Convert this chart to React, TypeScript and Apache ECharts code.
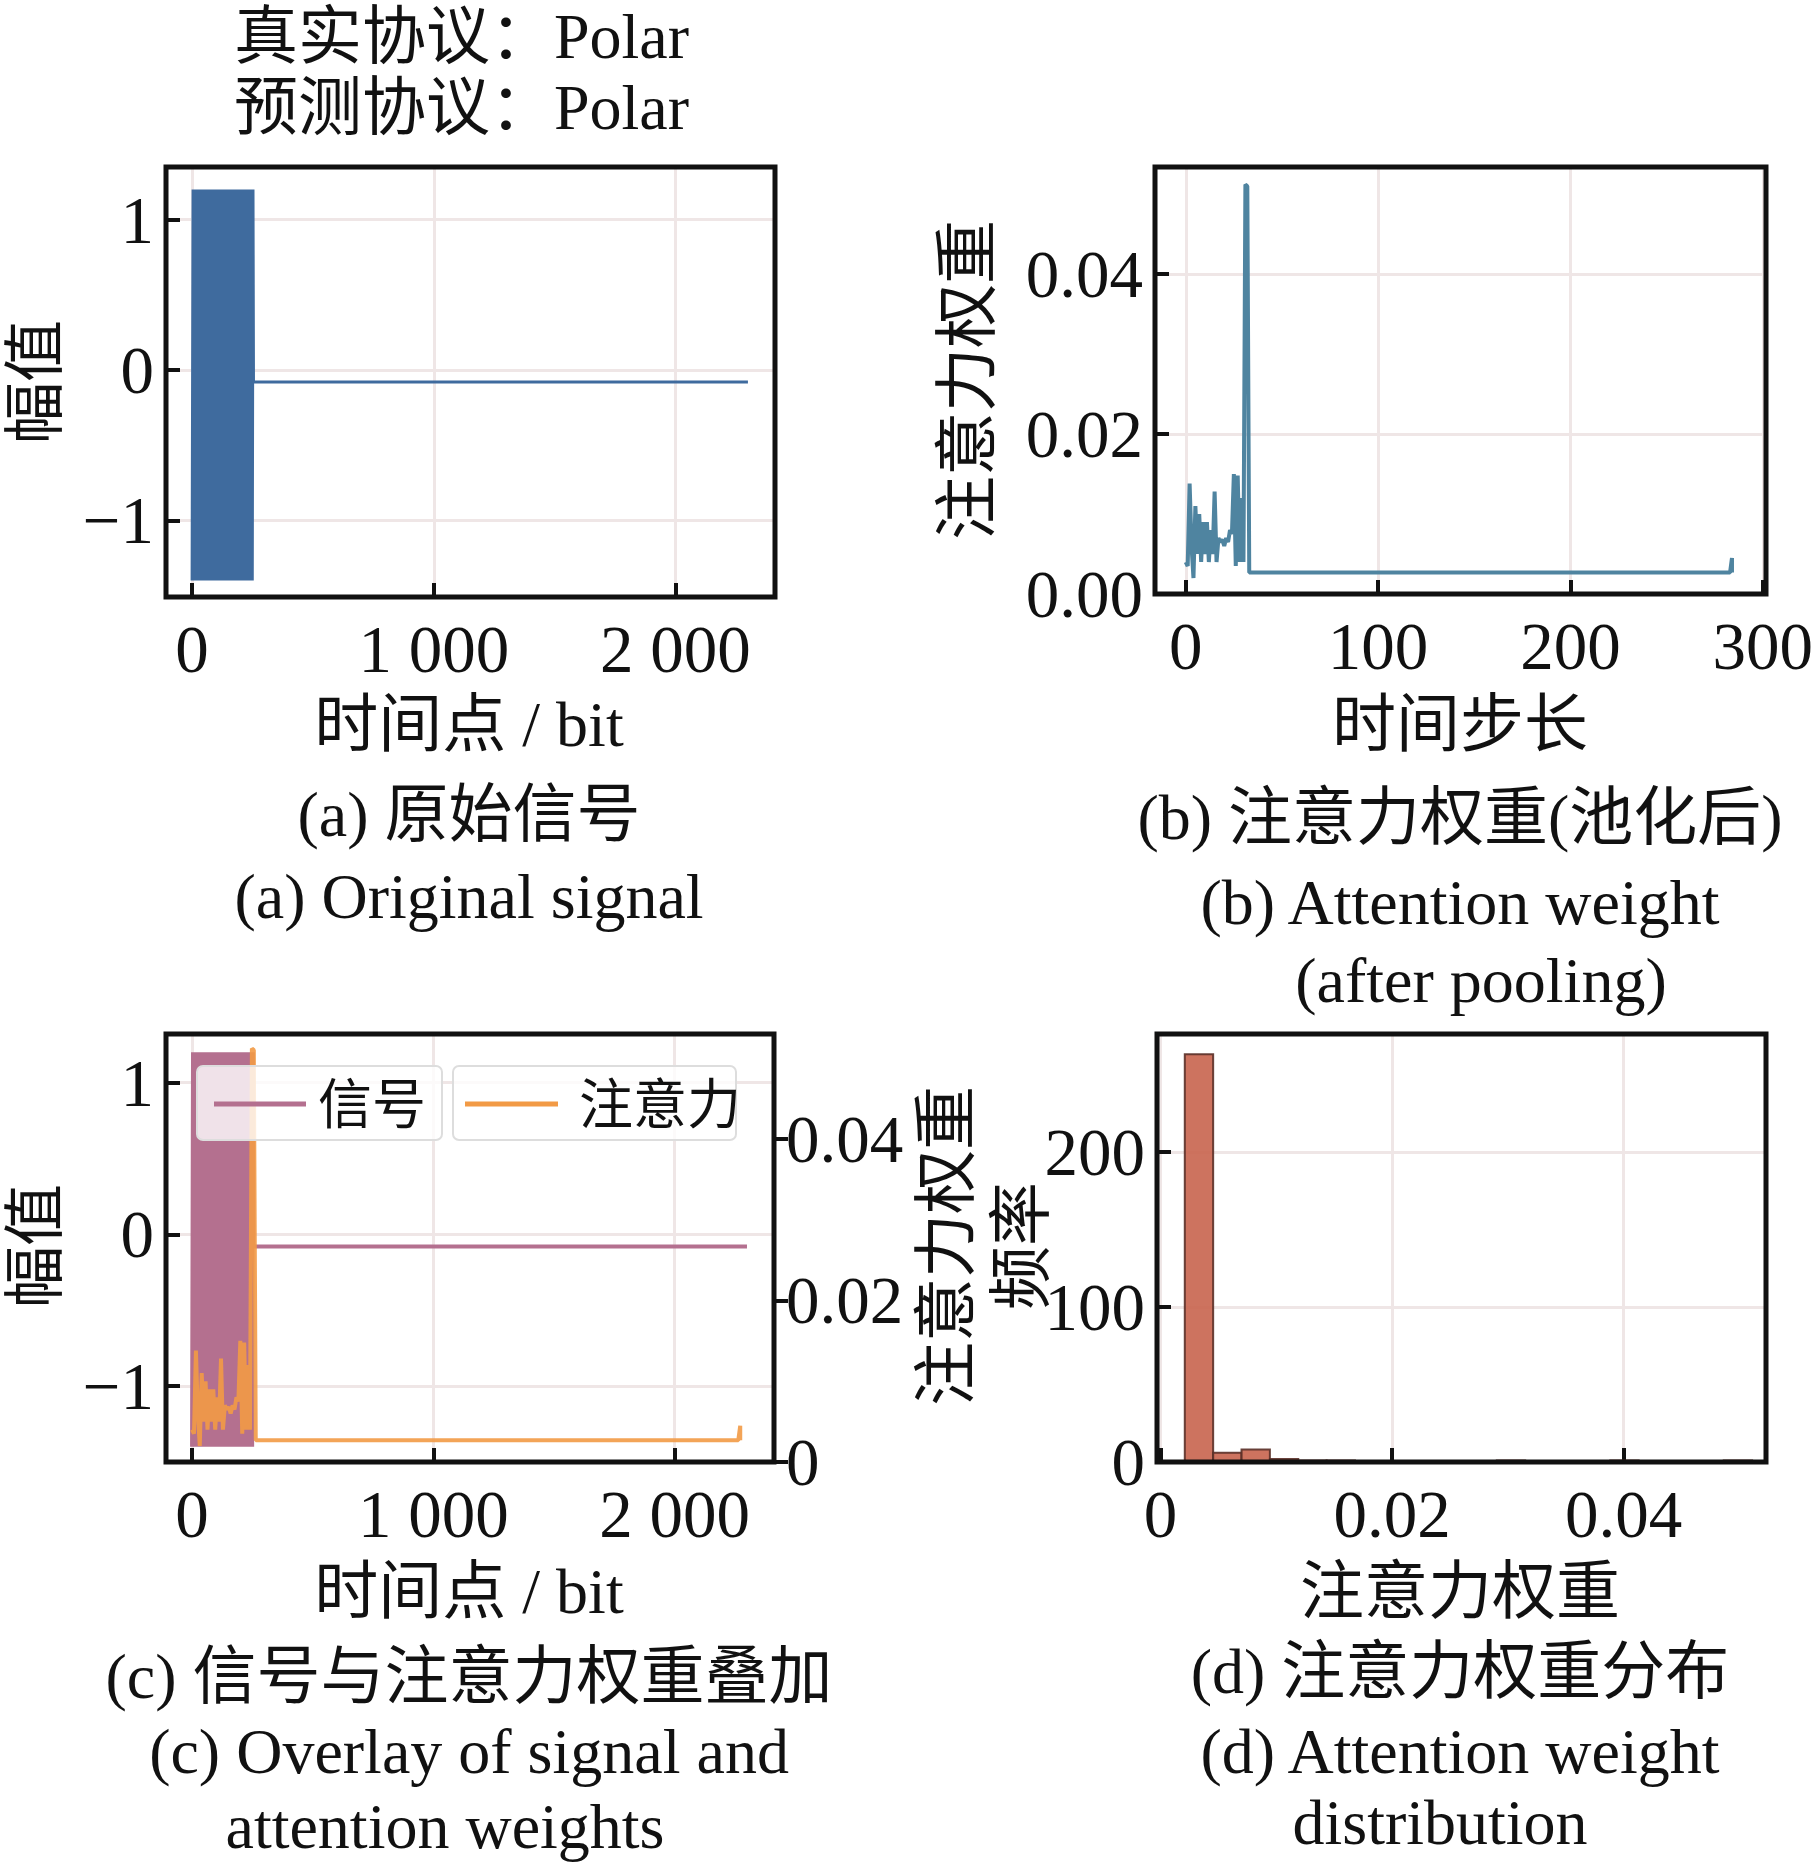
import React, { useEffect, useRef } from "react";
import * as echarts from "echarts";

// ---- data ----
const burstSignal: [number, number][] = [
  [0, -1.4], [4, 1.2], [9, -1.4], [14, 1.2], [19, -1.4], [24, 1.2], [29, -1.4], [34, 1.2], [39, -1.4], [44, 1.2],
  [49, -1.4], [54, 1.2], [59, -1.4], [64, 1.2], [69, -1.4], [74, 1.2], [79, -1.4], [84, 1.2], [89, -1.4], [94, 1.2],
  [99, -1.4], [104, 1.2], [109, -1.4], [114, 1.2], [119, -1.4], [124, 1.2], [129, -1.4], [134, 1.2], [139, -1.4], [144, 1.2],
  [149, -1.4], [154, 1.2], [159, -1.4], [164, 1.2], [169, -1.4], [174, 1.2], [179, -1.4], [184, 1.2], [189, -1.4], [194, 1.2],
  [199, -1.4], [204, 1.2], [209, -1.4], [214, 1.2], [219, -1.4], [224, 1.2], [229, -1.4], [234, 1.2], [239, -1.4], [244, 1.2],
  [249, -1.4], [252, 1.2], [254, -0.08], [2300, -0.08],
];
const attention: number[] = [
  0.004, 0.0035, 0.0138, 0.006, 0.002, 0.011, 0.005, 0.010, 0.004, 0.009,
  0.005, 0.009, 0.004, 0.008, 0.005, 0.0128, 0.004, 0.007, 0.0065, 0.0068,
  0.006, 0.007, 0.0065, 0.008, 0.0075, 0.015, 0.0035, 0.0148, 0.004, 0.012,
  0.004, 0.0512, 0.051, 0.0027,
];
const attentionTailEnd = 284;
const attentionTailValue = 0.0027;
const attentionLastValue = 0.0045;
const bitsPerStep = 8;
const histStart = 0.0021;
const histWidth = 0.00245;
const histCounts = [263, 6, 8, 2, 1, 1, 0, 0, 0, 0, 0, 1, 0, 0, 0, 1, 0, 0, 0, 1];
const signalTicksY = [-1, 0, 1];
const bitTicksX = [0, 1000, 2000];
const stepTicksX = [0, 100, 200, 300];
const weightTicksY = [0, 0.02, 0.04];
const weightTicksX = [0, 0.02, 0.04];
const freqTicksY = [0, 100, 200];

const attSeries: [number, number][] = [
  ...attention.map((v, i) => [i, v] as [number, number]),
  [attentionTailEnd - 1, attentionTailValue],
  [attentionTailEnd, attentionLastValue],
  [attentionTailEnd, attentionTailValue],
];

const FONT = "'Liberation Serif', 'Noto Sans CJK SC', serif";
const BLACK = "#111";
const GRIDC = "#efe6e6";
const TICK = 67;

function fmtNum(v: number) {
  if (v === 0) return "0";
  if (Math.abs(v) >= 1000) return String(v).replace(/(\d)(\d{3})$/, "$1 $2");
  if (v < 0) return "\u2212" + String(-v);
  return String(v);
}

function xAx(gi: number, min: number, max: number, ticks: number[], fmt = fmtNum) {
  return {
    type: "value", gridIndex: gi, min, max,
    axisLine: { show: true, onZero: false, lineStyle: { color: BLACK, width: 4 } },
    axisTick: { show: true, inside: true, length: 14, customValues: ticks, lineStyle: { color: BLACK, width: 4 } },
    axisLabel: { customValues: ticks, formatter: fmt, fontFamily: FONT, fontSize: TICK, color: BLACK, margin: 18 },
    splitLine: { show: false },
  };
}
function yAx(gi: number, min: number, max: number, ticks: number[], fmt = fmtNum, pos = "left") {
  return {
    type: "value", gridIndex: gi, min, max, position: pos,
    axisLine: { show: true, onZero: false, lineStyle: { color: BLACK, width: 4 } },
    axisTick: { show: true, inside: true, length: 14, customValues: ticks, lineStyle: { color: BLACK, width: 4 } },
    axisLabel: { customValues: ticks, formatter: fmt, fontFamily: FONT, fontSize: TICK, color: BLACK, margin: 12 },
    splitLine: { show: false },
  };
}
function gridSeries(xi: number, yi: number, xs: number[], ys: number[]) {
  return {
    type: "line", xAxisIndex: xi, yAxisIndex: yi, data: [], z: 0, silent: true,
    markLine: {
      silent: true, symbol: "none", label: { show: false }, z: 0,
      lineStyle: { color: GRIDC, width: 3, type: "solid" },
      data: [...xs.map((x) => ({ xAxis: x })), ...ys.map((y) => ({ yAxis: y }))],
    },
  };
}

function txt(x: number, y: number, text: string, size = 64, align = "center", rot = 0) {
  return {
    type: "text", x, y, rotation: rot,
    style: { text, fontFamily: FONT, fontSize: size, fill: BLACK, align, verticalAlign: "middle" },
  };
}

export default function App() {
  const ref = useRef<HTMLDivElement>(null);
  useEffect(() => {
    const chart = echarts.init(ref.current!, null, { renderer: "svg" });
    const S = 1.187;
    const P = (v: number) => Math.round(v * S);
    const frame = (l: number, t: number, r: number, b: number) => ({
      type: "rect", z: 100, shape: { x: P(l), y: P(t), width: P(r) - P(l), height: P(b) - P(t) },
      style: { fill: "none", stroke: BLACK, lineWidth: 5 }, silent: true,
    });
    chart.setOption({
      animation: false,
      backgroundColor: "#fff",
      grid: [
        { left: P(140), top: P(141), width: P(653) - P(140), height: P(503) - P(141) },
        { left: P(973), top: P(141), width: P(1488) - P(973), height: P(500) - P(141) },
        { left: P(140), top: P(871), width: P(652) - P(140), height: P(1232) - P(871) },
        { left: P(975), top: P(871), width: P(1488) - P(975), height: P(1232) - P(871) },
      ],
      xAxis: [
        xAx(0, -108, 2412, bitTicksX),
        xAx(1, -16, 301, stepTicksX),
        xAx(2, -108, 2412, bitTicksX),
        xAx(3, -0.0003, 0.0523, weightTicksX, (v: number) => (v === 0 ? "0" : String(v))),
      ],
      yAxis: [
        yAx(0, -1.51, 1.35, signalTicksY),
        yAx(1, 0, 0.0534, weightTicksY, (v: number) => v.toFixed(2)),
        yAx(2, -1.5, 1.32, signalTicksY),
        { ...yAx(2, 0, 0.053, weightTicksY, (v: number) => (v === 0 ? "0" : v.toFixed(2)), "right"),
          axisTick: { show: true, inside: false, length: 14, customValues: weightTicksY, lineStyle: { color: BLACK, width: 4 } } },
        yAx(3, 0, 276, freqTicksY),
      ],
      series: [
        gridSeries(0, 0, bitTicksX, signalTicksY),
        gridSeries(1, 1, stepTicksX, weightTicksY),
        gridSeries(2, 2, bitTicksX, signalTicksY),
        gridSeries(3, 4, weightTicksX, freqTicksY),
        { type: "line", z: 2, xAxisIndex: 0, yAxisIndex: 0, data: burstSignal, showSymbol: false,
          lineStyle: { color: "#3f6b9e", width: 3 } },
        { type: "line", z: 2, xAxisIndex: 1, yAxisIndex: 1, data: attSeries, showSymbol: false,
          lineStyle: { color: "#4f84a0", width: 4 } },
        { type: "line", z: 2, xAxisIndex: 2, yAxisIndex: 2, data: burstSignal, showSymbol: false,
          lineStyle: { color: "#b4708f", width: 4 } },
        { type: "line", z: 3, xAxisIndex: 2, yAxisIndex: 3, data: attSeries.map(([t, v]) => [t * bitsPerStep, v]), showSymbol: false,
          lineStyle: { color: "#f29a45", width: 4, opacity: 0.9 } },
        { type: "custom", z: 2, xAxisIndex: 3, yAxisIndex: 4,
          data: histCounts.map((c, i) => [histStart + i * histWidth, histStart + (i + 1) * histWidth, c]),
          encode: { x: [0, 1], y: 2 },
          renderItem: (params: any, api: any) => {
            const p0 = api.coord([api.value(0), 0]);
            const p1 = api.coord([api.value(1), api.value(2)]);
            return { type: "rect", shape: { x: p0[0], y: p1[1], width: p1[0] - p0[0], height: p0[1] - p1[1] },
              style: { fill: "#c8644e", stroke: "#5a3028", lineWidth: 2, opacity: 0.9 } };
          } },
      ],
      graphic: [
        frame(140, 141, 653, 503), frame(973, 141, 1488, 500), frame(140, 871, 652, 1232), frame(975, 871, 1488, 1232),
        txt(P(197), P(30), "真实协议：Polar", 64, "left"),
        txt(P(197), P(90), "预测协议：Polar", 64, "left"),
        txt(36, P(322), "幅值", 62, "center", Math.PI / 2),
        txt(P(815), P(320), "注意力权重", 64, "center", Math.PI / 2),
        txt(36, P(1050), "幅值", 62, "center", Math.PI / 2),
        txt(P(797), P(1050), "注意力权重", 64, "center", Math.PI / 2),
        txt(P(860), P(1050), "频率", 64, "center", Math.PI / 2),
        txt(P(395), P(610), "时间点 / bit"),
        txt(P(1230), P(610), "时间步长"),
        txt(P(395), P(1340), "时间点 / bit"),
        txt(P(1230), P(1340), "注意力权重"),
        txt(P(395), P(686), "(a) 原始信号"),
        txt(P(395), P(755), "(a) Original signal"),
        txt(P(1230), P(688), "(b) 注意力权重(池化后)"),
        txt(P(1230), P(760), "(b) Attention weight"),
        txt(P(1248), P(826), "(after pooling)"),
        txt(P(395), P(1412), "(c) 信号与注意力权重叠加"),
        txt(P(395), P(1475), "(c) Overlay of signal and"),
        txt(P(375), P(1538), "attention weights"),
        txt(P(1230), P(1408), "(d) 注意力权重分布"),
        txt(P(1230), P(1475), "(d) Attention weight"),
        txt(P(1213), P(1535), "distribution"),
        // legend in (c)
        { type: "rect", z: 50, shape: { x: P(166), y: P(898), width: P(206), height: P(62), r: 6 },
          style: { fill: "rgba(255,255,255,0.8)", stroke: "#ddd", lineWidth: 2 } },
        { type: "rect", z: 50, shape: { x: P(382), y: P(898), width: P(238), height: P(62), r: 6 },
          style: { fill: "rgba(255,255,255,0.8)", stroke: "#ddd", lineWidth: 2 } },
        { type: "line", z: 51, shape: { x1: P(180), y1: P(930), x2: P(258), y2: P(930) }, style: { stroke: "#b4708f", lineWidth: 5 } },
        { type: "line", z: 51, shape: { x1: P(392), y1: P(930), x2: P(470), y2: P(930) }, style: { stroke: "#f29a45", lineWidth: 5 } },
        { ...txt(P(268), P(932), "信号", 54, "left"), z: 51 },
        { ...txt(P(488), P(932), "注意力", 54, "left"), z: 51 },
      ],
    });
    return () => chart.dispose();
  }, []);
  return <div ref={ref} style={{ position: "absolute", left: 0, top: 0, width: 1816, height: 1866 }} />;
}
